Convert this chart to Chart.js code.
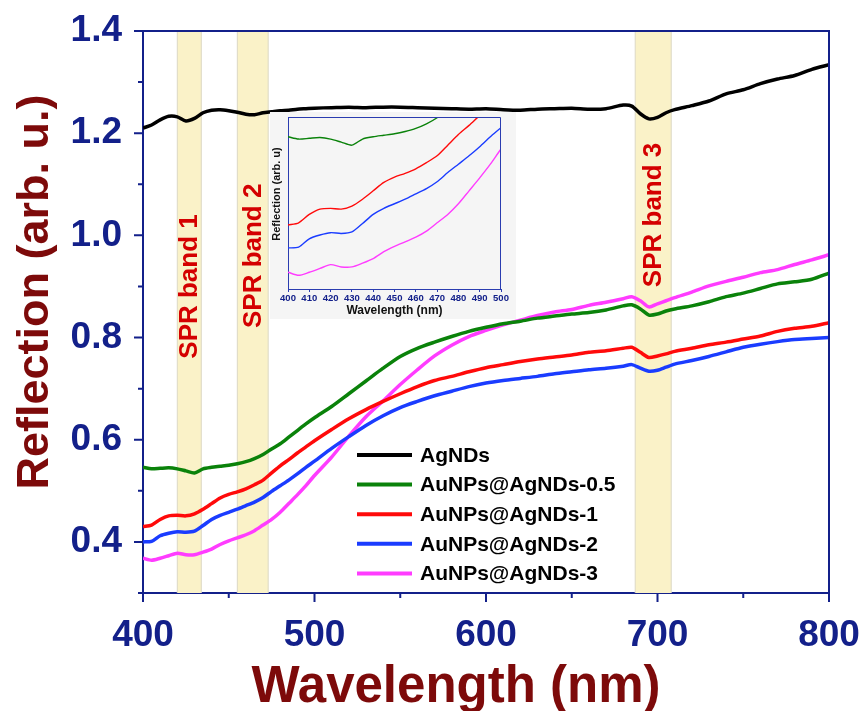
<!DOCTYPE html>
<html>
<head>
<meta charset="utf-8">
<script src="https://cdn.jsdelivr.net/npm/chart.js@4.4.1/dist/chart.umd.min.js"></script>
<style>
  html, body { margin: 0; padding: 0; background: #fff; }
  #wrap { position: relative; width: 862px; height: 711px; }
  #mainChart { position: absolute; left: 0; top: 0; }
  #insetChart { position: absolute; left: 270px; top: 112px; background: #f5f5f5; }
</style>
</head>
<body>
<div id="wrap">
  <canvas id="mainChart" width="862" height="711"></canvas>
  <canvas id="insetChart" width="246" height="207"></canvas>
</div>
<script>
// wavelength grid (nm) shared by every spectrum
const wavelengths = [400,405,410,415,420,425,430,435,440,445,450,455,460,465,470,475,480,485,490,495,500,
  510,520,530,540,550,560,570,580,590,600,610,620,630,640,650,660,670,680,
  685,690,695,700,705,710,
  720,730,740,750,760,770,780,790,800];

const agNDs = [1.210,1.216,1.226,1.233,1.232,1.224,1.229,1.240,1.245,1.246,1.244,1.241,1.237,1.236,1.240,1.242,1.244,1.245,1.247,1.248,1.249,
  1.250,1.251,1.250,1.251,1.251,1.250,1.249,1.248,1.247,1.248,1.246,1.245,1.247,1.248,1.249,1.247,1.248,1.255,
  1.253,1.238,1.228,1.231,1.240,1.246,
  1.254,1.263,1.277,1.285,1.297,1.306,1.313,1.325,1.334];

const auAg05 = [0.546,0.543,0.544,0.545,0.543,0.539,0.535,0.543,0.546,0.548,0.550,0.553,0.557,0.563,0.571,0.582,0.592,0.605,0.618,0.631,0.643,
  0.665,0.690,0.715,0.740,0.763,0.779,0.791,0.802,0.812,0.820,0.827,0.832,0.838,0.842,0.846,0.849,0.854,0.862,
  0.864,0.856,0.844,0.846,0.852,0.856,
  0.862,0.870,0.880,0.887,0.896,0.905,0.909,0.914,0.926];

const auAg1 = [0.430,0.433,0.444,0.451,0.452,0.451,0.455,0.464,0.475,0.486,0.493,0.498,0.504,0.512,0.521,0.535,0.549,0.561,0.574,0.586,0.598,
  0.620,0.641,0.659,0.675,0.690,0.704,0.716,0.724,0.733,0.741,0.747,0.753,0.758,0.762,0.766,0.771,0.774,0.779,
  0.781,0.771,0.761,0.764,0.768,0.773,
  0.779,0.786,0.791,0.797,0.803,0.812,0.818,0.822,0.829];

const auAg2 = [0.400,0.401,0.412,0.417,0.420,0.419,0.421,0.432,0.444,0.452,0.458,0.464,0.471,0.478,0.487,0.499,0.510,0.521,0.533,0.546,0.558,
  0.583,0.606,0.628,0.647,0.663,0.675,0.686,0.695,0.704,0.711,0.716,0.720,0.724,0.729,0.733,0.737,0.740,0.744,
  0.747,0.740,0.734,0.736,0.742,0.748,
  0.755,0.763,0.772,0.781,0.787,0.792,0.796,0.798,0.800];

const auAg3 = [0.368,0.364,0.368,0.373,0.378,0.375,0.375,0.380,0.386,0.395,0.402,0.408,0.414,0.422,0.433,0.444,0.458,0.475,0.492,0.510,0.530,
  0.566,0.607,0.645,0.676,0.708,0.737,0.764,0.785,0.802,0.814,0.825,0.834,0.843,0.850,0.855,0.863,0.869,0.876,
  0.880,0.872,0.860,0.866,0.872,0.878,
  0.889,0.901,0.910,0.918,0.927,0.933,0.943,0.952,0.962];

const seriesNames = ["AgNDs", "AuNPs@AgNDs-0.5", "AuNPs@AgNDs-1", "AuNPs@AgNDs-2", "AuNPs@AgNDs-3"];
const seriesValues = [agNDs, auAg05, auAg1, auAg2, auAg3];
const seriesColors = ["#000000", "#0a820a", "#ff0a0a", "#1a3cff", "#ff3cff"];

// SPR absorption bands (nm)
const sprBands = [[420, 434], [455, 473], [687, 708]];
const sprLabels = ["SPR band 1", "SPR band 2", "SPR band 3"];

const xTicks = [400, 500, 600, 700, 800];
const yTicks = [0.4, 0.6, 0.8, 1.0, 1.2, 1.4];
const insetXTicks = [400, 410, 420, 430, 440, 450, 460, 470, 480, 490, 500];

const FONT = "'Liberation Sans', Arial, Helvetica, sans-serif";
const NAVY = "#13208a";
const TITLE_RED = "#7d0a0a";

function makeDatasets(width) {
  return seriesValues.map((vals, i) => ({
    label: seriesNames[i],
    data: wavelengths.map((w, j) => ({ x: w, y: vals[j] })),
    borderColor: seriesColors[i],
    backgroundColor: seriesColors[i],
    borderWidth: width,
    pointRadius: 0,
    tension: 0.25,
    fill: false
  }));
}

// shaded SPR bands with rotated captions
const bandPlugin = {
  id: "sprBands",
  beforeDatasetsDraw(chart) {
    const { ctx, chartArea, scales: { x, y } } = chart;
    const labelAt = [0.90, 0.96, 1.04];
    ctx.save();
    sprBands.forEach((band, i) => {
      const x0 = x.getPixelForValue(band[0]);
      const x1 = x.getPixelForValue(band[1]);
      ctx.fillStyle = "#faf2c8";
      ctx.fillRect(x0, chartArea.top, x1 - x0, chartArea.bottom - chartArea.top);
      ctx.strokeStyle = "#dcd8c4";
      ctx.lineWidth = 1;
      ctx.beginPath();
      ctx.moveTo(x0, chartArea.top); ctx.lineTo(x0, chartArea.bottom);
      ctx.moveTo(x1, chartArea.top); ctx.lineTo(x1, chartArea.bottom);
      ctx.stroke();

      ctx.save();
      ctx.translate((x0 + x1) / 2 + 1, y.getPixelForValue(labelAt[i]));
      ctx.rotate(-Math.PI / 2);
      ctx.fillStyle = "#d40000";
      ctx.font = "bold 26px " + FONT;
      ctx.textAlign = "center";
      ctx.textBaseline = "middle";
      ctx.fillText(sprLabels[i], 0, 0);
      ctx.restore();
    });
    ctx.restore();
  }
};

// top/right frame, tick marks, axis titles and the in-plot legend
const framePlugin = {
  id: "frameAndLegend",
  afterDraw(chart) {
    const { ctx, chartArea, scales: { x, y } } = chart;
    ctx.save();
    ctx.strokeStyle = NAVY;
    ctx.lineWidth = 2;
    ctx.beginPath();
    ctx.moveTo(chartArea.left, chartArea.top);
    ctx.lineTo(chartArea.right, chartArea.top);
    ctx.lineTo(chartArea.right, chartArea.bottom);
    ctx.stroke();

    // major (9px) and minor (5px) tick marks, pointing outwards
    ctx.beginPath();
    for (let v = 400; v <= 800; v += 50) {
      const px = x.getPixelForValue(v);
      ctx.moveTo(px, chartArea.bottom);
      ctx.lineTo(px, chartArea.bottom + (v % 100 === 0 ? 9 : 5));
    }
    for (let k = 3; k <= 14; k++) {
      const py = y.getPixelForValue(k / 10);
      ctx.moveTo(chartArea.left, py);
      ctx.lineTo(chartArea.left - (k % 2 === 0 ? 9 : 5), py);
    }
    ctx.stroke();

    // axis titles
    ctx.fillStyle = TITLE_RED;
    ctx.textAlign = "center";
    ctx.textBaseline = "middle";
    ctx.font = "bold 51px " + FONT;
    ctx.fillText("Wavelength (nm)", 456, 688);
    ctx.save();
    ctx.translate(36, 292);
    ctx.rotate(-Math.PI / 2);
    ctx.font = "bold 45px " + FONT;
    ctx.fillText("Reflection (arb. u.)", 0, 0);
    ctx.restore();

    // legend
    ctx.textAlign = "left";
    ctx.font = "bold 21px " + FONT;
    chart.data.datasets.forEach((ds, i) => {
      const yy = 455 + i * 29.6;
      ctx.strokeStyle = ds.borderColor;
      ctx.lineWidth = 4;
      ctx.beginPath();
      ctx.moveTo(357, yy);
      ctx.lineTo(412, yy);
      ctx.stroke();
      ctx.fillStyle = "#000";
      ctx.fillText(ds.label, 420, yy + 1);
    });
    ctx.restore();
  }
};

new Chart(document.getElementById("mainChart"), {
  type: "line",
  data: { datasets: makeDatasets(3.5) },
  plugins: [bandPlugin, framePlugin],
  options: {
    responsive: false,
    animation: false,
    layout: { padding: { top: 31, right: 33, left: 0, bottom: 0 } },
    plugins: { legend: { display: false }, tooltip: { enabled: false } },
    scales: {
      x: {
        type: "linear",
        min: 400,
        max: 800,
        afterBuildTicks: (s) => { s.ticks = xTicks.map((v) => ({ value: v })); },
        afterFit: (s) => { s.height = 118; },
        border: { color: NAVY, width: 2 },
        grid: { drawOnChartArea: false, tickLength: 21, tickColor: "rgba(0,0,0,0)" },
        ticks: { color: NAVY, padding: 0, maxRotation: 0, font: { family: FONT, size: 37, weight: "bold" } }
      },
      y: {
        min: 0.3,
        max: 1.4,
        afterBuildTicks: (s) => { s.ticks = yTicks.map((v) => ({ value: v })); },
        afterFit: (s) => { s.width = 143; },
        border: { color: NAVY, width: 2 },
        grid: { drawOnChartArea: false, tickLength: 21, tickColor: "rgba(0,0,0,0)" },
        ticks: {
          color: NAVY,
          padding: 0,
          font: { family: FONT, size: 37, weight: "bold" },
          callback: (v) => Number(v).toFixed(1)
        }
      }
    }
  }
});

// inset: close-up of the 400-500 nm region
const insetFrame = {
  id: "insetFrame",
  afterDraw(chart) {
    const { ctx, chartArea } = chart;
    ctx.save();
    ctx.strokeStyle = "#2a3cb0";
    ctx.lineWidth = 1;
    ctx.beginPath();
    ctx.moveTo(chartArea.left, chartArea.top + 0.5);
    ctx.lineTo(chartArea.right - 0.5, chartArea.top + 0.5);
    ctx.lineTo(chartArea.right - 0.5, chartArea.bottom);
    ctx.stroke();

    ctx.fillStyle = "#111";
    ctx.font = "bold 11px " + FONT;
    ctx.textAlign = "center";
    ctx.textBaseline = "middle";
    ctx.translate(7, 82);
    ctx.rotate(-Math.PI / 2);
    ctx.fillText("Reflection (arb. u)", 0, 0);
    ctx.restore();
  }
};

new Chart(document.getElementById("insetChart"), {
  type: "line",
  data: { datasets: makeDatasets(1.4).slice(1) },
  plugins: [insetFrame],
  options: {
    responsive: false,
    animation: false,
    layout: { padding: { top: 5, right: 15, left: 0, bottom: 0 } },
    plugins: { legend: { display: false }, tooltip: { enabled: false } },
    scales: {
      x: {
        type: "linear",
        min: 400,
        max: 500,
        afterBuildTicks: (s) => { s.ticks = insetXTicks.map((v) => ({ value: v })); },
        afterFit: (s) => { s.height = 30; },
        border: { color: "#2a3cb0", width: 1 },
        grid: { drawOnChartArea: false, tickLength: 3, tickColor: "#2a3cb0" },
        ticks: { color: NAVY, padding: 1, maxRotation: 0, font: { family: FONT, size: 9.5, weight: "bold" } },
        title: {
          display: true,
          text: "Wavelength (nm)",
          color: "#111",
          font: { family: FONT, size: 12, weight: "bold" },
          padding: { top: 0, bottom: 1 }
        }
      },
      y: {
        min: 0.346,
        max: 0.572,
        afterFit: (s) => { s.width = 18; },
        border: { color: "#2a3cb0", width: 1 },
        grid: { display: false },
        ticks: { display: false }
      }
    }
  }
});
</script>
</body>
</html>
